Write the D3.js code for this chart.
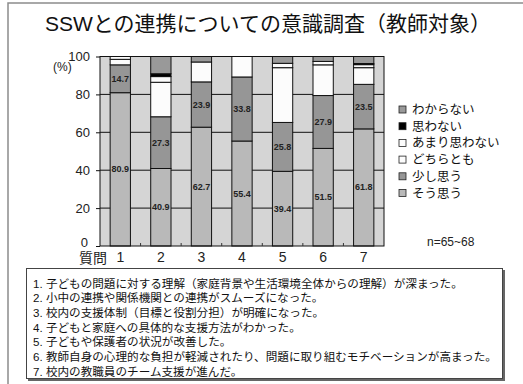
<!DOCTYPE html>
<html>
<head>
<meta charset="utf-8">
<script src="https://cdn.jsdelivr.net/npm/d3@7"></script>
<style>
  body { margin: 0; background: #fff; }
  text { font-family: "Liberation Sans", Arial, "Noto Sans CJK JP", sans-serif; }
</style>
</head>
<body>
<div id="chart"></div>
<script>
// SSWとの連携についての意識調査（教師対象） — 100% stacked columns
const categories = ["1", "2", "3", "4", "5", "6", "7"];
const seriesNames = ["そう思う", "少し思う", "どちらとも", "あまり思わない", "思わない", "わからない"];
const souOmou   = [80.9, 40.9, 62.7, 55.4, 39.4, 51.5, 61.8];
const sukoshi   = [14.7, 27.3, 23.9, 33.8, 25.8, 27.9, 23.5];
const dochira   = [2.9, 18.2, 10.5, 10.8, 28.9, 16.2, 8.8];
const amari     = [1.5, 3.0, 0, 0, 2.3, 1.8, 1.6];
const omowanai  = [0, 1.5, 0, 0, 0, 0, 0.6];
const wakaranai = [0, 9.1, 2.9, 0, 3.6, 2.6, 3.7];
const yTicks = [0, 20, 40, 60, 80, 100];
const questions = [
  "1. 子どもの問題に対する理解（家庭背景や生活環境全体からの理解）が深まった。",
  "2. 小中の連携や関係機関との連携がスムーズになった。",
  "3. 校内の支援体制（目標と役割分担）が明確になった。",
  "4. 子どもと家庭への具体的な支援方法がわかった。",
  "5. 子どもや保護者の状況が改善した。",
  "6. 教師自身の心理的な負担が軽減されたり、問題に取り組むモチベーションが高まった。",
  "7. 校内の教職員のチーム支援が進んだ。"
];

const values = [souOmou, sukoshi, dochira, amari, omowanai, wakaranai];
const rows = categories.map((c, i) => {
  const r = { q: c };
  seriesNames.forEach((k, j) => r[k] = values[j][i]);
  return r;
});

const W = 523, H = 384;
const svg = d3.select("#chart").append("svg")
  .attr("width", W).attr("height", H);

// outer frame
svg.append("path").attr("d", `M8,${H} V3 H${W}`)
  .attr("fill", "none").attr("stroke", "#8c8c8c").attr("stroke-width", 1.5);

svg.append("text").attr("x", 268).attr("y", 31)
  .attr("text-anchor", "middle").attr("font-size", 21).attr("fill", "#111")
  .text("SSWとの連携についての意識調査（教師対象）");

const plot = { left: 100, right: 384, top: 56.5, bottom: 246 };
const x = d3.scaleBand().domain(categories)
  .range([plot.left, plot.right]).paddingInner(0.5).paddingOuter(0.25);
const y = d3.scaleLinear().domain([0, 100]).range([plot.bottom, plot.top]);

const color = d3.scaleOrdinal().domain(seriesNames)
  .range(["#b9b9b9", "#969696", "#fcfcfc", "#fcfcfc", "#000000", "#999999"]);

// plot background + grid
svg.append("rect").attr("x", plot.left).attr("y", plot.top)
  .attr("width", plot.right - plot.left).attr("height", plot.bottom - plot.top)
  .attr("fill", "#d5d5d5");
svg.append("g").selectAll("line").data(yTicks.slice(1, -1)).join("line")
  .attr("x1", plot.left).attr("x2", plot.right)
  .attr("y1", d => y(d)).attr("y2", d => y(d))
  .attr("stroke", "#111").attr("stroke-width", 1);

const series = d3.stack().keys(seriesNames)(rows);
svg.append("g").selectAll("g").data(series).join("g")
  .attr("fill", d => color(d.key))
  .selectAll("rect").data(d => d.filter(s => s[1] - s[0] > 0)).join("rect")
  .attr("x", d => x(d.data.q))
  .attr("width", x.bandwidth())
  .attr("y", d => y(d[1]))
  .attr("height", d => y(d[0]) - y(d[1]))
  .attr("stroke", "#111").attr("stroke-width", 1);

// value labels for the two lowest series
const labelled = series.slice(0, 2);
svg.append("g").selectAll("g").data(labelled).join("g")
  .selectAll("text").data(d => d).join("text")
  .attr("x", d => x(d.data.q) + x.bandwidth() / 2)
  .attr("y", d => y((d[0] + d[1]) / 2) + 3)
  .attr("text-anchor", "middle").attr("font-size", 9).attr("font-weight", "bold")
  .attr("fill", "#222")
  .text(d => d3.format(".1f")(d[1] - d[0]));

// plot border
svg.append("rect").attr("x", plot.left).attr("y", plot.top)
  .attr("width", plot.right - plot.left).attr("height", plot.bottom - plot.top)
  .attr("fill", "none").attr("stroke", "#111").attr("stroke-width", 1);

// y axis
const yAxis = svg.append("g").attr("transform", `translate(${plot.left},0)`)
  .call(d3.axisLeft(y).tickValues(yTicks).tickSize(4).tickPadding(6));
yAxis.select(".domain").remove();
yAxis.selectAll("line").attr("stroke", "#111");
yAxis.selectAll("text").attr("font-size", 13).attr("fill", "#222")
  .attr("font-family", "Liberation Sans, Arial, sans-serif");
// the zero label sits a little higher in the original
yAxis.selectAll(".tick").filter(d => d === 0).select("text")
  .attr("dy", "0.32em").attr("y", -4).attr("x", -12);

svg.append("text").attr("x", 53).attr("y", 71).attr("font-size", 12).attr("fill", "#222").text("(%)");

// x axis: category boundary ticks inside, labels centred
const bounds = d3.range(categories.length + 1).map(i => plot.left + i * x.step());
svg.append("g").selectAll("line").data(bounds.slice(1, -1)).join("line")
  .attr("x1", d => d).attr("x2", d => d)
  .attr("y1", plot.bottom).attr("y2", plot.bottom - 3)
  .attr("stroke", "#333");
const xAxis = svg.append("g").attr("transform", `translate(0,${plot.bottom})`)
  .call(d3.axisBottom(x).tickSize(0).tickPadding(6));
xAxis.select(".domain").remove();
xAxis.selectAll("text").attr("font-size", 14).attr("fill", "#222")
  .attr("font-family", "Liberation Sans, Arial, sans-serif");
svg.append("text").attr("x", 79).attr("y", 263).attr("font-size", 14).attr("fill", "#222").text("質問");

// legend (top series first)
const legend = svg.append("g").attr("transform", "translate(399,106)");
seriesNames.slice().reverse().forEach((k, i) => {
  const row = legend.append("g").attr("transform", `translate(0,${i * 16.7})`);
  row.append("rect").attr("width", 7).attr("height", 7)
    .attr("fill", color(k)).attr("stroke", "#222").attr("stroke-width", 0.8);
  row.append("text").attr("x", 13).attr("y", 8).attr("font-size", 12.5)
    .attr("fill", "#111").text(k);
});

svg.append("text").attr("x", 427).attr("y", 246).attr("font-size", 12).attr("fill", "#222").text("n=65~68");

// question box
svg.append("rect").attr("x", 28).attr("y", 270).attr("width", 477).attr("height", 111)
  .attr("fill", "#666");
svg.append("rect").attr("x", 26.5).attr("y", 268.5).attr("width", 476).attr("height", 110)
  .attr("fill", "#fff").attr("stroke", "#444").attr("stroke-width", 1);
svg.append("g").selectAll("text").data(questions).join("text")
  .attr("x", 33).attr("y", (d, i) => 287.5 + i * 14.7)
  .attr("font-size", 11.6).attr("fill", "#111")
  .text(d => d);
</script>
</body>
</html>
